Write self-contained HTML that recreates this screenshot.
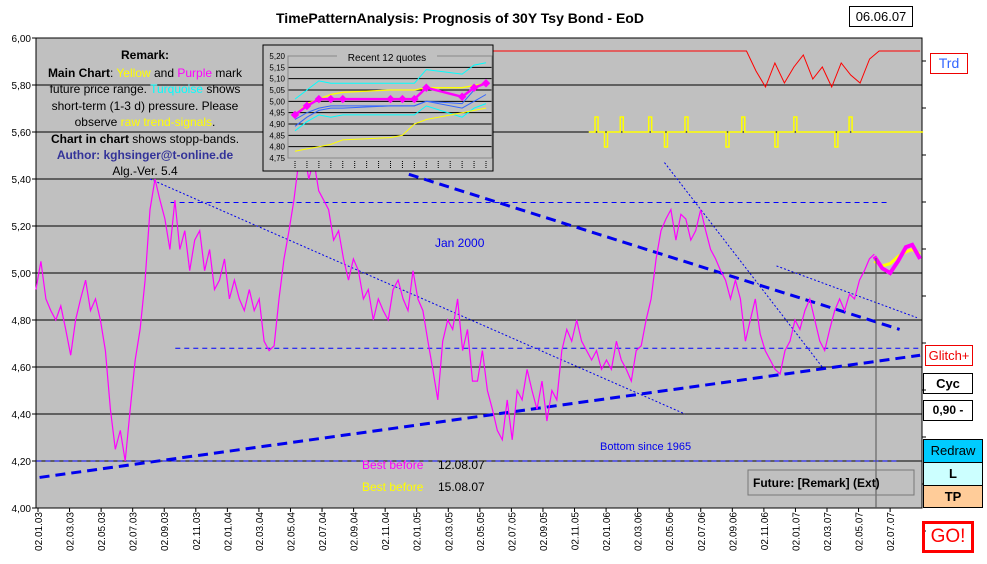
<!DOCTYPE html>
<html><head><meta charset="utf-8"><style>
body{margin:0;background:#fff;width:987px;height:564px;overflow:hidden;font-family:"Liberation Sans",sans-serif}
svg{position:absolute;left:0;top:0}
.btn{position:absolute;box-sizing:border-box;text-align:center;font-family:"Liberation Sans",sans-serif}
</style></head><body>
<svg id="c" width="987" height="564"></svg>
<div class="btn" style="left:849px;top:6px;width:64px;height:21px;border:1px solid #000;font-size:13px;line-height:19px">06.06.07</div>
<div class="btn" style="left:930px;top:53px;width:38px;height:21px;border:1px solid #e00;color:#3366ff;font-size:14px;line-height:19px">Trd</div>
<div class="btn" style="left:925px;top:345px;width:48px;height:21px;border:1px solid #e00;color:#e00;font-size:13px;line-height:19px">Glitch+</div>
<div class="btn" style="left:923px;top:373px;width:50px;height:21px;border:1px solid #000;font-weight:bold;font-size:13px;line-height:19px">Cyc</div>
<div class="btn" style="left:923px;top:400px;width:50px;height:21px;border:1px solid #000;font-weight:bold;font-size:12px;line-height:19px">0,90 -</div>
<div class="btn" style="left:923px;top:439px;width:60px;height:24px;border:1px solid #000;background:#00ccff;font-size:13px;line-height:22px">Redraw</div>
<div class="btn" style="left:923px;top:462px;width:60px;height:24px;border:1px solid #000;background:#ccffff;font-weight:bold;font-size:13px;line-height:22px">L</div>
<div class="btn" style="left:923px;top:485px;width:60px;height:23px;border:1px solid #000;background:#ffcc99;font-weight:bold;font-size:13px;line-height:21px">TP</div>
<div class="btn" style="left:922px;top:521px;width:52px;height:32px;border:3px solid #f00;color:#f00;font-size:19px;line-height:26px">GO!</div>
<script>
const yTicks=[6.0,5.8,5.6,5.4,5.2,5.0,4.8,4.6,4.4,4.2,4.0];
const xLabels=["02.01.03","02.03.03","02.05.03","02.07.03","02.09.03","02.11.03","02.01.04","02.03.04","02.05.04","02.07.04","02.09.04","02.11.04","02.01.05","02.03.05","02.05.05","02.07.05","02.09.05","02.11.05","02.01.06","02.03.06","02.05.06","02.07.06","02.09.06","02.11.06","02.01.07","02.03.07","02.05.07","02.07.07"];
const price=[4.93,5.05,4.89,4.84,4.80,4.86,4.76,4.65,4.80,4.89,4.97,4.84,4.89,4.80,4.67,4.42,4.25,4.33,4.20,4.42,4.63,4.76,4.97,5.27,5.40,5.31,5.23,5.10,5.31,5.10,5.18,5.01,5.14,5.18,5.01,5.10,4.93,4.97,5.06,4.89,4.97,4.89,4.84,4.93,4.84,4.89,4.71,4.67,4.69,4.89,5.06,5.18,5.31,5.48,5.52,5.40,5.48,5.35,5.31,5.27,5.14,5.18,5.06,4.97,5.06,5.01,4.89,4.93,4.80,4.89,4.84,4.80,4.93,4.97,4.89,4.84,5.01,4.89,4.84,4.71,4.59,4.46,4.71,4.80,4.76,4.89,4.67,4.76,4.54,4.54,4.67,4.50,4.42,4.33,4.29,4.46,4.29,4.50,4.46,4.59,4.50,4.42,4.54,4.37,4.50,4.46,4.67,4.76,4.71,4.80,4.71,4.67,4.63,4.67,4.59,4.63,4.59,4.71,4.63,4.59,4.54,4.67,4.69,4.80,4.89,5.06,5.18,5.23,5.27,5.14,5.25,5.23,5.14,5.18,5.27,5.18,5.10,5.06,5.01,4.97,4.89,4.97,4.89,4.71,4.80,4.89,4.74,4.67,4.63,4.59,4.57,4.67,4.71,4.80,4.76,4.84,4.89,4.80,4.71,4.67,4.76,4.84,4.89,4.84,4.91,4.89,4.97,5.01,5.06,5.08];
const priceStartMonth=-0.13, priceEndMonth=53.0;
const futMonths=[53.0,53.5,54,54.5,55,55.4,55.9];
const futPurple=[5.07,5.02,5.00,5.05,5.11,5.12,5.06];
const futYellow=[5.05,5.03,5.04,5.07,5.09,5.10,5.08];
const trendThick=[[0.1,4.13,55.9,4.65],[23.5,5.42,54.6,4.76]];
const trendThin=[[7.1,5.40,41.0,4.40],[39.7,5.47,49.7,4.60],[46.8,5.03,55.7,4.81]];
const levels=[[8.4,5.30,53.8],[8.7,4.68,55.9],[-0.1,4.20,54.4]];
const trdMonths=[23.5,44.9,45.5,46.1,46.7,47.3,47.9,48.5,49.1,49.7,50.3,50.9,51.5,52.1,52.7,53.3,55.9];
const trdVals=[1,1,0.5,0.1,0.7,0.2,0.6,0.9,0.3,0.6,0.1,0.7,0.4,0.2,0.8,1,1];
const sigMonths=[34.9,35.3,35.9,36.9,37.9,38.7,39.7,41.0,41.9,43.6,44.6,46.7,47.9,48.8,50.5,51.4,52.4,55.9];
const sigVals=[0,1,-1,1,0,1,-1,1,0,-1,1,-1,1,0,-1,1,0,0];
const insetTicks=[5.20,5.15,5.10,5.05,5.00,4.95,4.90,4.85,4.80,4.75];
const insetIdx=[0,1,2,3,4,8,9,10,11,14,15,16];
const insetPurple=[4.94,4.98,5.01,5.01,5.01,5.01,5.01,5.01,5.06,5.02,5.06,5.08];
const insetCyanHi=[5.01,5.05,5.09,5.08,5.08,5.08,5.08,5.08,5.14,5.12,5.16,5.17];
const insetYellowHi=[4.94,4.99,5.01,5.03,5.04,5.05,5.05,5.05,5.06,5.06,5.07,5.08];
const insetBlue1=[4.92,4.95,4.97,4.98,4.98,4.98,4.98,4.98,5.00,4.99,5.05,5.09];
const insetBlue2=[4.89,4.93,4.96,4.97,4.97,4.98,4.98,4.98,5.00,4.97,5.00,5.03];
const insetCyanLo=[4.87,4.91,4.94,4.93,4.94,4.94,4.94,4.94,4.98,4.93,4.97,4.99];
const insetYellowLo=[4.78,4.79,4.80,4.81,4.83,4.84,4.85,4.90,4.92,4.95,4.96,4.97];

const NS="http://www.w3.org/2000/svg", svg=document.getElementById('c');
function el(t,a,p){const e=document.createElementNS(NS,t);for(const k in a)e.setAttribute(k,a[k]);(p||svg).appendChild(e);return e;}
const X0=38,XM=15.78,L=36,R=922,T=38,B=508;
const xs=m=>X0+m*XM, ys=v=>T+(6-v)/2*(B-T);
let e=el('rect',{x:L,y:T,width:R-L,height:B-T,fill:'#c0c0c0',stroke:'#000'});

e=el('text',{x:460,y:23,'text-anchor':'middle','font-size':14,'font-weight':'bold'});e.textContent='TimePatternAnalysis: Prognosis of 30Y Tsy Bond - EoD';

yTicks.forEach(v=>{const y=ys(v);
 if(v>4.0&&v<6.0){e=el('line',{x1:L,x2:R,y1:y,y2:y,stroke:'#000'});}
 el('line',{x1:L-4,x2:L,y1:y,y2:y,stroke:'#000'});el('line',{x1:R,x2:R+4,y1:y+23,y2:y+23,stroke:'#000'});
 e=el('text',{x:31,y:y+4,'text-anchor':'end','font-size':10});e.textContent=v.toFixed(2).replace('.',',');
 });
xLabels.forEach((s,i)=>{const x=xs(i*2);el('line',{x1:x,x2:x,y1:B,y2:B+4,stroke:'#000'});
 e=el('text',{x:0,y:0,transform:`translate(${x+4},512) rotate(-90)`,'text-anchor':'end','font-size':10});e.textContent=s;
 });
levels.forEach(l=>{e=el('line',{x1:xs(l[0]),x2:xs(l[2]),y1:ys(l[1]),y2:ys(l[1]),stroke:'#0000ff','stroke-dasharray':'5,4'});});
e=el('line',{x1:L,x2:245,y1:ys(5.4),y2:ys(5.4),stroke:'#000','stroke-dasharray':'1,1'});
trendThick.forEach(t=>{e=el('line',{x1:xs(t[0]),y1:ys(t[1]),x2:xs(t[2]),y2:ys(t[3]),stroke:'#0000ee','stroke-width':3,'stroke-dasharray':'10,6'});});
trendThin.forEach(t=>{e=el('line',{x1:xs(t[0]),y1:ys(t[1]),x2:xs(t[2]),y2:ys(t[3]),stroke:'#0000ee','stroke-dasharray':'2,2'});});
const n=price.length;
let d=price.map((v,i)=>(i?'L':'M')+xs(priceStartMonth+i*(priceEndMonth-priceStartMonth)/(n-1)).toFixed(1)+','+ys(v).toFixed(1)).join('');
e=el('path',{d,fill:'none',stroke:'#ff00ff','stroke-width':1.2});
e=el('path',{d:futYellow.map((v,i)=>(i?'L':'M')+xs(futMonths[i])+','+ys(v)).join(''),fill:'none',stroke:'#ffff00','stroke-width':3});
e=el('path',{d:futPurple.map((v,i)=>(i?'L':'M')+xs(futMonths[i])+','+ys(v)).join(''),fill:'none',stroke:'#ff00ff','stroke-width':4});
el('line',{x1:876,x2:876,y1:258,y2:B,stroke:'#555'});
e=el('path',{d:trdMonths.map((m,i)=>(i?'L':'M')+xs(m).toFixed(1)+','+(91-trdVals[i]*40).toFixed(1)).join(''),fill:'none',stroke:'#ff0000'});
let sd='M'+xs(sigMonths[0])+',132';sigMonths.forEach((m,i)=>{const x=xs(m);const y=132-sigVals[i]*15;sd+=`L${x},132L${x},${y}L${x+3},${y}L${x+3},132`;});sd+='L'+R+',132';
e=el('path',{d:sd,fill:'none',stroke:'#ffff00','stroke-width':1.5});
function txt(x,y,s,o,name){const t=el('text',Object.assign({x,y,'font-size':12},o));t.textContent=s;return t;}
txt(435,247,'Jan 2000',{fill:'#0000ee'},'jan-2000-label');
txt(600,450,'Bottom since 1965',{fill:'#0000ee','font-size':11},'bottom-label');
txt(362,469,'Best before',{fill:'#ff00ff'},'best-before-purple');txt(438,469,'12.08.07',{},'best-date-1');
txt(362,491,'Best before',{fill:'#ffff00'},'best-before-yellow');txt(438,491,'15.08.07',{},'best-date-2');
e=el('rect',{x:748,y:470,width:166,height:25,fill:'none',stroke:'#777'});
txt(753,487,'Future: [Remark] (Ext)',{'font-weight':'bold'},'future-remark');
const rem=el('text',{'font-size':12,'text-anchor':'middle'});
[[59,'<tspan font-weight="bold">Remark:</tspan>'],[77,'<tspan font-weight="bold">Main Chart</tspan>: <tspan fill="#ffff00">Yellow</tspan> and <tspan fill="#ff00ff">Purple</tspan> mark'],[93,'future price range. <tspan fill="#00ffff">Turquoise</tspan> shows'],[110,'short-term (1-3 d) pressure. Please'],[126,'observe <tspan fill="#ffff00">raw trend-signals</tspan>.'],[143,'<tspan font-weight="bold">Chart in chart</tspan> shows stopp-bands.'],[159,'<tspan font-weight="bold" fill="#333399">Author: kghsinger@t-online.de</tspan>'],[175,'Alg.-Ver. 5.4']].forEach(([y,h])=>{const t=el('tspan',{x:145,y},rem);t.innerHTML=h;});
const IX0=295,IXS=(486-295)/16,IT=56,IB=158;
const ix=i=>IX0+i*IXS, iy=v=>IT+(5.20-v)/0.45*(IB-IT);
e=el('rect',{x:263,y:45,width:230,height:126,fill:'#c0c0c0',stroke:'#000'});
insetTicks.forEach(v=>{const y=iy(v);el('line',{x1:288,x2:492,y1:y,y2:y,stroke:'#000'});
 e=el('text',{x:285,y:y+3,'text-anchor':'end','font-size':8});e.textContent=v.toFixed(2).replace('.',',');});
el('rect',{x:288,y:IT,width:204,height:IB-IT,fill:'none',stroke:'#888'});
for(let i=0;i<=16;i++)el('line',{x1:ix(i),x2:ix(i),y1:161,y2:168,stroke:'#000','stroke-dasharray':'1,1'});
el('rect',{x:337,y:51,width:100,height:11,fill:'#c0c0c0'});
txt(387,61,'Recent 12 quotes',{'font-size':10,'text-anchor':'middle'},'inset-title');
[[insetCyanHi,'#00ffff',1],[insetYellowHi,'#ffff00',1.3],[insetBlue1,'#3366ff',1],[insetBlue2,'#3366ff',1],[insetCyanLo,'#00ffff',1],[insetYellowLo,'#ffff00',1],[insetPurple,'#ff00ff',2.5]].forEach(([a,c,w])=>{
 e=el('path',{d:a.map((v,i)=>(i?'L':'M')+ix(insetIdx[i]).toFixed(1)+','+iy(v).toFixed(1)).join(''),fill:'none',stroke:c,'stroke-width':w});
 });
insetPurple.forEach((v,i)=>{e=el('rect',{x:ix(insetIdx[i])-3,y:iy(v)-3,width:6,height:6,fill:'#ff00ff',transform:`rotate(45 ${ix(insetIdx[i])} ${iy(v)})`});});
</script>
</body></html>
